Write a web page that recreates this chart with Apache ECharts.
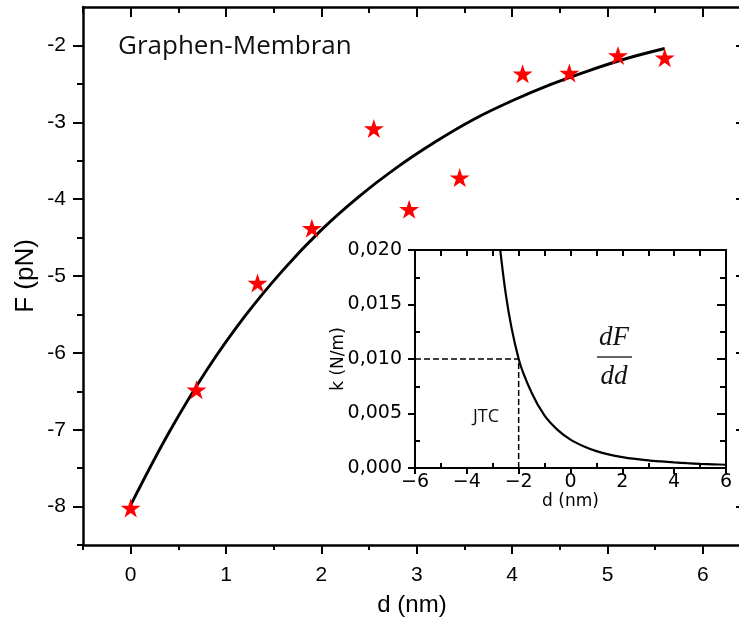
<!DOCTYPE html>
<html>
<head>
<meta charset="utf-8">
<script src="https://cdn.jsdelivr.net/npm/echarts@6/dist/echarts.min.js"></script>
<style>
  html, body { margin: 0; padding: 0; background: #ffffff; }
  #chart { width: 739px; height: 631px; }
</style>
</head>
<body>
<div id="chart"></div>
<script>
// Measured force F vs. distance d for the graphene membrane
const distance = [0.00, 0.69, 1.33, 1.90, 2.55, 2.92, 3.45, 4.11, 4.60, 5.11, 5.60];
const force    = [-8.02, -6.48, -5.09, -4.38, -3.08, -4.13, -3.72, -2.37, -2.36, -2.13, -2.16];

// Fitted force curve
const fitDistance = [0, 0.4, 0.8, 1.2, 1.6, 2.0, 2.4, 2.8, 3.2, 3.6, 4.0, 4.4, 4.8, 5.2, 5.6];
const fitForce    = [-7.98, -7.04, -6.22, -5.52, -4.92, -4.40, -3.96, -3.58, -3.25, -2.96, -2.72, -2.51, -2.33, -2.17, -2.04];

// Inset: stiffness k = dF/dd (first point lies above the plotted range and is clipped)
const insetD = [-3.0, -2.5, -2.0, -1.5, -1.0, -0.5, 0, 0.5, 1.0, 1.5, 2.0, 2.5, 3.0, 3.5, 4.0, 4.5, 5.0, 5.5, 6.0];
const insetK = [0.0265, 0.0160, 0.0100, 0.0069, 0.0048, 0.0035, 0.0026, 0.0020, 0.00155, 0.00123, 0.00100, 0.00083, 0.00070, 0.00060, 0.00051, 0.00044, 0.00038, 0.00034, 0.00030];

// JTC working point
const jtcD = -2;
const jtcK = 0.010;

// Tick values
const mainXMajor = [0, 1, 2, 3, 4, 5, 6];
const mainXMinor = [-0.5, 0.5, 1.5, 2.5, 3.5, 4.5, 5.5];
const mainYMajor = [-8, -7, -6, -5, -4, -3, -2];
const mainYMinor = [-8.5, -7.5, -6.5, -5.5, -4.5, -3.5, -2.5];
const insetXMajor = [-6, -4, -2, 0, 2, 4, 6];
const insetXMinor = [-5, -3, -1, 1, 3, 5];
const insetYMajor = [0, 0.005, 0.010, 0.015, 0.020];
const insetYMinor = [0.0025, 0.0075, 0.0125, 0.0175];

const INK = '#000000';
const TXT = '#000000';
const SANS = 'Liberation Sans';
const STAR = 'path://M100,0L122.45,69.1L195.1,69.1L136.3,111.8L158.8,180.9L100,138.2L41.2,180.9L63.7,111.8L4.9,69.1L77.55,69.1Z';

function tickAxis(opts) {
  // builds an axis that draws a given set of ticks, optionally with its line, labels and name
  const a = {
    type: 'value',
    gridIndex: opts.grid,
    position: opts.position,
    min: opts.min,
    max: opts.max,
    splitLine: { show: false },
    nameMoveOverlap: false,
    axisLine: { show: !!opts.line, onZero: false, lineStyle: { color: INK, width: opts.lineWidth || 2.5 } },
    axisTick: {
      show: true,
      inside: !!opts.inside,
      length: opts.tickLen,
      customValues: opts.ticks,
      lineStyle: { color: INK, width: opts.tickWidth || 2 }
    },
    axisLabel: opts.labels ? {
      show: true,
      customValues: opts.labels,
      margin: opts.margin,
      color: TXT,
      fontFamily: opts.font || SANS,
      fontSize: opts.fontSize || 21,
      formatter: opts.formatter
    } : { show: false }
  };
  if (opts.name) {
    a.name = opts.name;
    a.nameLocation = 'middle';
    a.nameGap = opts.nameGap;
    a.nameTextStyle = { color: TXT, fontFamily: opts.font || SANS, fontSize: opts.nameSize || 24 };
  }
  return a;
}

const insetXFmt = v => (v < 0 ? '\u2212' + (-v) : String(v));
const insetYFmt = v => v.toFixed(3).replace('.', ',');

const chart = echarts.init(document.getElementById('chart'), null, { renderer: 'canvas' });

chart.setOption({
  animation: false,
  backgroundColor: '#ffffff',
  grid: [
    { left: 83, top: 7, right: -2, bottom: 86, containLabel: false, outerBoundsMode: 'none' },
    { left: 415, top: 250, width: 311, height: 218, containLabel: false, outerBoundsMode: 'none' }
  ],
  xAxis: [
    tickAxis({ grid: 0, position: 'bottom', min: -0.5, max: 6.4, line: true, ticks: mainXMajor, tickLen: 9,
               labels: mainXMajor, margin: 20, name: 'd (nm)', nameGap: 48, nameSize: 24 }),
    tickAxis({ grid: 0, position: 'bottom', min: -0.5, max: 6.4, ticks: mainXMinor, tickLen: 5 }),
    tickAxis({ grid: 0, position: 'top', min: -0.5, max: 6.4, line: true, inside: true, ticks: mainXMajor, tickLen: 10 }),
    tickAxis({ grid: 0, position: 'top', min: -0.5, max: 6.4, inside: true, ticks: mainXMinor, tickLen: 6 }),

    tickAxis({ grid: 1, position: 'bottom', min: -6, max: 6, line: true, lineWidth: 2, ticks: insetXMajor, tickLen: 6,
               labels: insetXMajor, margin: 5, font: 'DejaVu Sans', fontSize: 19, formatter: insetXFmt,
               name: 'd (nm)', nameGap: 25, nameSize: 17 }),
    tickAxis({ grid: 1, position: 'bottom', min: -6, max: 6, inside: true, ticks: insetXMinor, tickLen: 5 }),
    tickAxis({ grid: 1, position: 'top', min: -6, max: 6, line: true, lineWidth: 2, inside: true,
               ticks: insetXMajor.concat(insetXMinor), tickLen: 6 })
  ],
  yAxis: [
    tickAxis({ grid: 0, position: 'left', min: -8.5, max: -1.5, line: true, ticks: mainYMajor, tickLen: 10,
               labels: mainYMajor, margin: 17, name: 'F (pN)', nameGap: 44, nameSize: 26 }),
    tickAxis({ grid: 0, position: 'left', min: -8.5, max: -1.5, ticks: mainYMinor, tickLen: 6 }),
    tickAxis({ grid: 0, position: 'right', min: -8.5, max: -1.5, line: true, inside: true, ticks: mainYMajor, tickLen: 5 }),

    tickAxis({ grid: 1, position: 'left', min: 0, max: 0.02, line: true, lineWidth: 2, ticks: insetYMajor, tickLen: 7,
               labels: insetYMajor, margin: 13, font: 'DejaVu Sans', fontSize: 19, formatter: insetYFmt,
               name: 'k (N/m)', nameGap: 68, nameSize: 17 }),
    tickAxis({ grid: 1, position: 'left', min: 0, max: 0.02, inside: true, ticks: insetYMinor, tickLen: 5 }),
    tickAxis({ grid: 1, position: 'right', min: 0, max: 0.02, line: true, lineWidth: 2, inside: true, ticks: insetYMajor, tickLen: 9 }),
    tickAxis({ grid: 1, position: 'right', min: 0, max: 0.02, inside: true, ticks: insetYMinor, tickLen: 6 })
  ],
  series: [
    {
      name: 'fit',
      type: 'line',
      xAxisIndex: 0, yAxisIndex: 0,
      data: fitDistance.map((d, i) => [d, fitForce[i]]),
      smooth: 0.35,
      showSymbol: false,
      symbol: 'none',
      lineStyle: { color: INK, width: 2.9 },
      z: 3
    },
    {
      name: 'measured',
      type: 'scatter',
      xAxisIndex: 0, yAxisIndex: 0,
      data: distance.map((d, i) => [d, force[i]]),
      symbol: STAR,
      symbolSize: [20, 19],
      itemStyle: { color: '#ff0000', opacity: 1 },
      z: 4
    },
    {
      name: 'k',
      type: 'line',
      xAxisIndex: 4, yAxisIndex: 3,
      data: insetD.map((d, i) => [d, insetK[i]]),
      smooth: 0.3,
      clip: true,
      showSymbol: false,
      symbol: 'none',
      lineStyle: { color: INK, width: 2.2 },
      z: 3
    },
    {
      name: 'jtc-h',
      type: 'line',
      xAxisIndex: 4, yAxisIndex: 3,
      data: [[insetXMajor[0], jtcK], [jtcD, jtcK]],
      symbol: 'none',
      lineStyle: { color: INK, width: 1.5, type: [6, 3] },
      z: 2
    },
    {
      name: 'jtc-v',
      type: 'line',
      xAxisIndex: 4, yAxisIndex: 3,
      data: [[jtcD, insetYMajor[0]], [jtcD, jtcK]],
      symbol: 'none',
      lineStyle: { color: INK, width: 1.5, type: [6, 3] },
      z: 2
    }
  ],
  graphic: [
    {
      type: 'text', x: 118, y: 47, z: 10,
      style: { text: 'Graphen-Membran', fill: '#111111', font: '26px "Open Sans"', align: 'left', verticalAlign: 'middle' }
    },
    {
      type: 'text', x: 486, y: 417, z: 10,
      style: { text: 'JTC', fill: '#111111', font: '18px "Open Sans"', align: 'center', verticalAlign: 'middle' }
    },
    {
      type: 'text', x: 614, y: 338, z: 10,
      style: { text: 'dF', fill: '#111111', font: 'italic 27px "Liberation Serif"', align: 'center', verticalAlign: 'middle' }
    },
    {
      type: 'line', z: 10,
      shape: { x1: 597, y1: 357, x2: 632, y2: 357 },
      style: { stroke: '#333333', lineWidth: 1.3 }
    },
    {
      type: 'text', x: 614, y: 377, z: 10,
      style: { text: 'dd', fill: '#111111', font: 'italic 27px "Liberation Serif"', align: 'center', verticalAlign: 'middle' }
    }
  ]
});
</script>
</body>
</html>
